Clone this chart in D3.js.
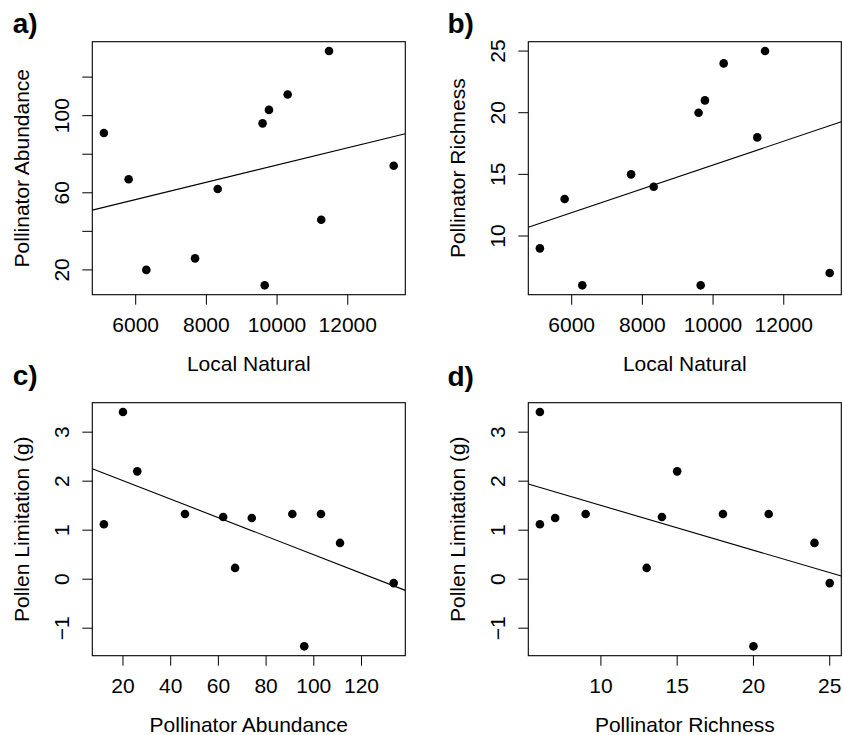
<!DOCTYPE html>
<html>
<head>
<meta charset="utf-8">
<script src="https://cdn.jsdelivr.net/npm/d3@7"></script>
<style>
body{margin:0;background:#fff;}
text{font-family:"Liberation Sans",Arial,Helvetica,sans-serif;fill:#000;}
</style>
</head>
<body>
<div class="content"></div>
<script>
const SVG_WIDTH = 843;
const SVG_HEIGHT = 735;
const BOX_W = 313;
const BOX_H = 253;

// one entry per site
const localNatural = [5100, 5800, 6300, 7680, 8320, 9590, 9770, 10300, 11470, 11250, 13300, 9650];
const pollAbundance = [91, 67, 20, 26, 62, 96, 103, 111, 133.5, 46, 74, 12];
const pollRichness = [9, 13, 6, 15, 14, 20, 21, 24, 25, 18, 7, 6];
const pollenLimitation = [1.33, 0.23, 3.41, 2.20, 1.27, -1.37, 1.33, 0.74, -0.08, 1.33, 1.25, 1.12];

// axis ticks
const naturalTicks = [6000, 8000, 10000, 12000];
const abundanceTicks = [20, 40, 60, 80, 100, 120];
const abundanceYLabels = [20, 60, 100];
const richnessTicks = [10, 15, 20, 25];
const limitationTicks = [-1, 0, 1, 2, 3];

const panels = [
    {label:"a)", xs:localNatural, ys:pollAbundance, xticks:naturalTicks, yticks:abundanceTicks, ylabels:abundanceYLabels,
     xtitle:"Local Natural", ytitle:"Pollinator Abundance", left:92.3, top:41.7, labX:12.7, labY:33.3},
    {label:"b)", xs:localNatural, ys:pollRichness, xticks:naturalTicks, yticks:richnessTicks, ylabels:richnessTicks,
     xtitle:"Local Natural", ytitle:"Pollinator Richness", left:528.3, top:41.7, labX:447.5, labY:33.3},
    {label:"c)", xs:pollAbundance, ys:pollenLimitation, xticks:abundanceTicks, yticks:limitationTicks, ylabels:limitationTicks,
     xtitle:"Pollinator Abundance", ytitle:"Pollen Limitation (g)", left:92.3, top:402.7, labX:12.7, labY:385},
    {label:"d)", xs:pollRichness, ys:pollenLimitation, xticks:richnessTicks, yticks:limitationTicks, ylabels:limitationTicks,
     xtitle:"Pollinator Richness", ytitle:"Pollen Limitation (g)", left:528.3, top:402.7, labX:447.5, labY:385.5}
];

// R style axis range: data range padded by 4% each side
function rRange(v){
    let lo = d3.min(v), hi = d3.max(v);
    let pad = (hi-lo)*0.04;
    return [lo-pad, hi+pad];
}

// least squares fit, like abline(lm(y~x))
function fitLine(xs, ys){
    let mx = d3.mean(xs), my = d3.mean(ys);
    let sxy = d3.sum(xs, (x,i)=>(x-mx)*(ys[i]-my));
    let sxx = d3.sum(xs, x=>(x-mx)*(x-mx));
    let b = sxy/sxx;
    return {a: my-b*mx, b: b};
}

const fmt = v => (v<0 ? "\u2212"+Math.abs(v) : ""+v);

const svg = d3.select(".content").append("svg").attr("width",SVG_WIDTH).attr("height",SVG_HEIGHT);

panels.forEach((p,k)=>{
    let xscale = d3.scaleLinear().domain(rRange(p.xs)).range([p.left, p.left+BOX_W]);
    let yscale = d3.scaleLinear().domain(rRange(p.ys)).range([p.top+BOX_H, p.top]);
    let bottom = p.top+BOX_H;
    let g = svg.append("g").attr("class","panel");

    g.append("clipPath").attr("id","clip"+k)
        .append("rect").attr("x",p.left).attr("y",p.top).attr("width",BOX_W).attr("height",BOX_H);

    // x axis ticks and labels
    g.selectAll(".xtick").data(p.xticks).join("line").attr("class","xtick")
        .attr("x1",d=>xscale(d)).attr("x2",d=>xscale(d))
        .attr("y1",bottom).attr("y2",bottom+10)
        .attr("stroke","#000").attr("stroke-width",1);
    g.selectAll(".xlab").data(p.xticks).join("text").attr("class","xlab")
        .attr("x",d=>xscale(d)).attr("y",bottom+37)
        .attr("text-anchor","middle").style("font-size","21px")
        .text(fmt);

    // y axis ticks and labels, labels run along the axis
    g.selectAll(".ytick").data(p.yticks).join("line").attr("class","ytick")
        .attr("x1",p.left-10).attr("x2",p.left)
        .attr("y1",d=>yscale(d)).attr("y2",d=>yscale(d))
        .attr("stroke","#000").attr("stroke-width",1);
    g.selectAll(".ylab").data(p.ylabels).join("text").attr("class","ylab")
        .attr("transform",d=>"translate("+(p.left-23)+","+yscale(d)+") rotate(-90)")
        .attr("text-anchor","middle").style("font-size","21px")
        .text(fmt);

    // axis titles
    g.append("text").attr("x",p.left+BOX_W/2).attr("y",bottom+76)
        .attr("text-anchor","middle").style("font-size","21px").text(p.xtitle);
    g.append("text")
        .attr("transform","translate("+(p.left-63)+","+(p.top+BOX_H/2)+") rotate(-90)")
        .attr("text-anchor","middle").style("font-size","21px").text(p.ytitle);

    // panel letter
    g.append("text").attr("x",p.labX).attr("y",p.labY)
        .style("font-size","28px").style("font-weight","bold").text(p.label);

    // regression line
    let fit = fitLine(p.xs, p.ys);
    let xd = xscale.domain();
    g.append("line").attr("clip-path","url(#clip"+k+")")
        .attr("x1",xscale(xd[0])).attr("y1",yscale(fit.a+fit.b*xd[0]))
        .attr("x2",xscale(xd[1])).attr("y2",yscale(fit.a+fit.b*xd[1]))
        .attr("stroke","#000").attr("stroke-width",1.1);

    // points
    g.selectAll("circle").data(p.xs.map((x,i)=>[x,p.ys[i]])).join("circle")
        .attr("cx",d=>xscale(d[0])).attr("cy",d=>yscale(d[1]))
        .attr("r",4.3).attr("fill","#000");

    // box
    g.append("rect").attr("x",p.left).attr("y",p.top).attr("width",BOX_W).attr("height",BOX_H)
        .attr("fill","none").attr("stroke","#000").attr("stroke-width",1.1);
});
</script>
</body>
</html>
